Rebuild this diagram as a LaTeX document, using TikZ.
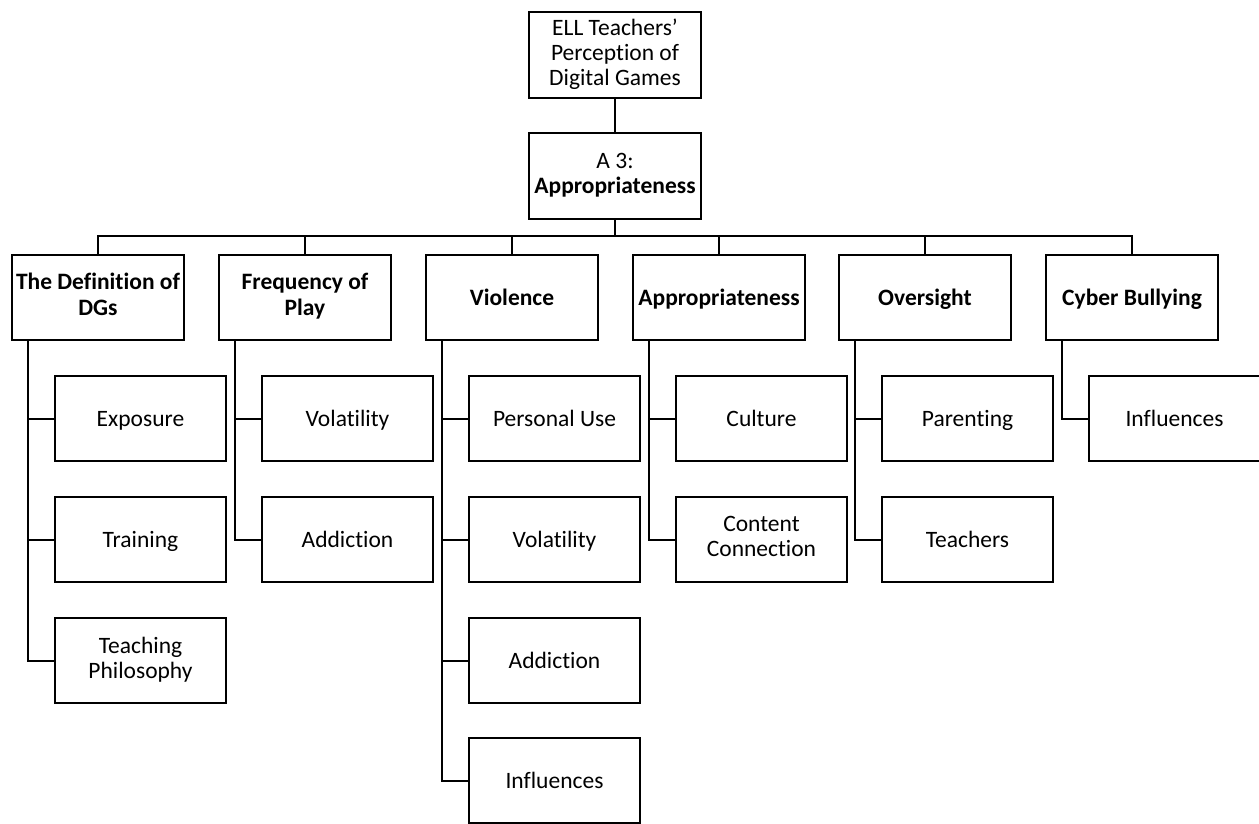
\documentclass[tikz,border=0pt]{standalone}
\usepackage{fontspec}
\setmainfont{Carlito}[Ligatures={NoCommon,NoContextual}]
\usetikzlibrary{calc}
\newcommand\topstrut{\rule{0pt}{21pt}}
\newcommand\botstrut{\rule[-6pt]{0pt}{6pt}}
\tikzset{
  box/.style={draw, line width=2pt, inner sep=0pt, align=center, anchor=north west,
    font=\fontsize{23.5}{25}\selectfont,
    execute at begin node=\topstrut, execute at end node=\botstrut},
  topbox/.style={box, minimum width=172pt, minimum height=86pt},
  catbox/.style={box, minimum width=172pt, minimum height=85pt, font=\fontsize{23.5}{25.5}\selectfont\bfseries},
  subbox/.style={box, minimum width=171pt, minimum height=85pt},
  link/.style={line width=2pt}
}
\begin{document}
\begin{tikzpicture}[x=1pt,y=-1pt]
\useasboundingbox (0,0) rectangle (1259,824);

% root and theme
\node[topbox] (root) at (528,11) {ELL Teachers'\\Perception of\\Digital Games};
\node[topbox] (theme) at (528,132) {A 3:\\\textbf{Appropriateness}};

% categories
\node[catbox] (c1) at (11,254)   {The Definition of\\DGs};
\node[catbox] (c2) at (218,254)  {Frequency of\\Play};
\node[catbox] (c3) at (425,254)  {Violence};
\node[catbox] (c4) at (632,254)  {Appropriateness};
\node[catbox] (c5) at (838,254)  {Oversight};
\node[catbox] (c6) at (1045,254) {Cyber Bullying};

% sub-categories
\node[subbox] (s11) at (54,375)  {Exposure};
\node[subbox] (s12) at (54,496)  {Training};
\node[subbox] (s13) at (54,617)  {Teaching\\Philosophy};

\node[subbox] (s21) at (261,375) {Volatility};
\node[subbox] (s22) at (261,496) {Addiction};

\node[subbox] (s31) at (468,375) {Personal Use};
\node[subbox] (s32) at (468,496) {Volatility};
\node[subbox] (s33) at (468,617) {Addiction};
\node[subbox] (s34) at (468,737) {Influences};

\node[subbox] (s41) at (675,375) {Culture};
\node[subbox] (s42) at (675,496) {Content\\Connection};

\node[subbox] (s51) at (881,375) {Parenting};
\node[subbox] (s52) at (881,496) {Teachers};

\node[subbox] (s61) at (1088,375) {Influences};

% upper connectors
\coordinate (bar) at (0,236);
\draw[link] (root.south) -- (theme.north);
\draw[link] (theme.south) -- (theme.south |- bar);
\draw[link] (c1.north) |- (bar -| c6.north) -- (c6.north);
\foreach \c in {c2,c3,c4,c5}
  \draw[link] (\c.north) -- (\c.north |- bar);

% branch connectors
\foreach \p/\kids in {c1/{s11,s12,s13}, c2/{s21,s22}, c3/{s31,s32,s33,s34},
                      c4/{s41,s42}, c5/{s51,s52}, c6/{s61}}
  \foreach \k in \kids
    \draw[link] ($(\p.south west)+(17,0)$) |- (\k.west);
\end{tikzpicture}
\end{document}
